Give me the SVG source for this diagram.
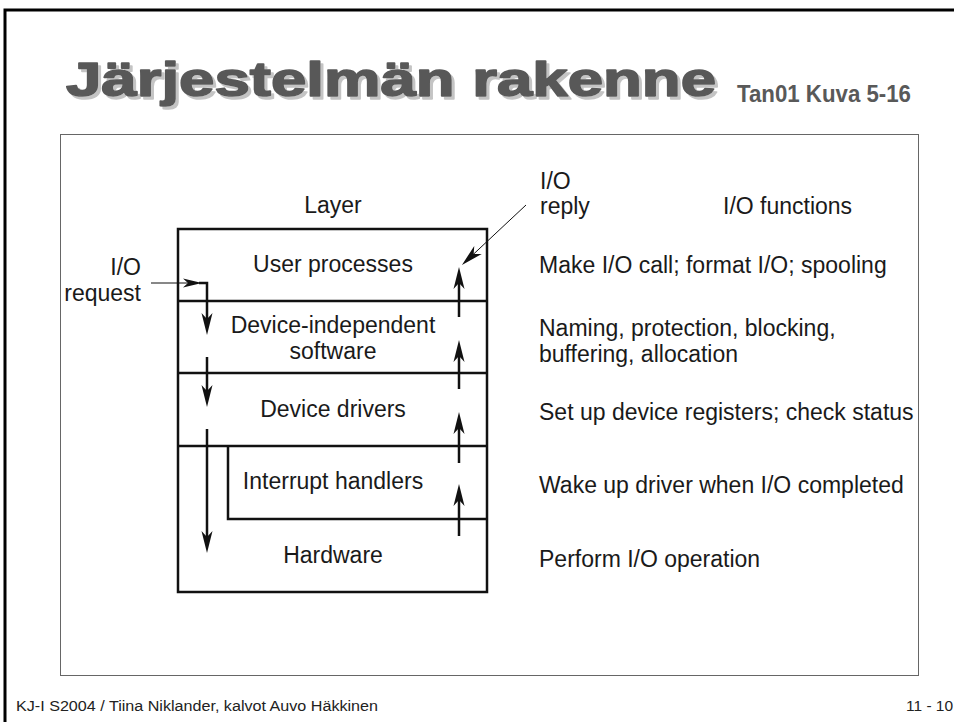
<svg xmlns="http://www.w3.org/2000/svg" width="954" height="722" viewBox="0 0 954 722">
<style>
.lbl{font-family:"Liberation Sans",Arial,sans-serif;font-size:23px;fill:#1a1a1a}
.mid{text-anchor:middle}
.end{text-anchor:end}
.title{font-family:"Liberation Sans",Arial,sans-serif;font-weight:bold;font-size:48px;stroke-width:1.6;stroke-linejoin:round;fill:#595959;stroke:#595959}
.sub{font-family:"Liberation Sans",Arial,sans-serif;font-weight:bold;font-size:23px;fill:#595959}
.box{fill:none;stroke:#111;stroke-width:2.5}
.arr{fill:none;stroke:#111;stroke-width:2.5}
.thin{fill:none;stroke:#111;stroke-width:1}
.foot{font-family:"Liberation Sans",Arial,sans-serif;font-size:15.5px;fill:#222}
</style>
<defs>
<filter id="shadow" x="-5%" y="-20%" width="110%" height="150%">
<feOffset in="SourceAlpha" dx="3" dy="3" result="off"/>
<feFlood flood-color="#c4c4c4"/>
<feComposite in2="off" operator="in" result="sh"/>
<feMerge><feMergeNode in="sh"/><feMergeNode in="SourceGraphic"/></feMerge>
</filter>
<marker id="headBig" markerUnits="userSpaceOnUse" viewBox="-23 -7 24 14" markerWidth="24" markerHeight="14" refX="-8" refY="0" orient="auto">
<path d="M0,0 L-22,-5.5 L-16,0 L-22,5.5 Z" fill="#111"/>
</marker>
<marker id="headSmall" markerUnits="userSpaceOnUse" viewBox="-20 -6 21 12" markerWidth="21" markerHeight="12" refX="-8" refY="0" orient="auto">
<path d="M0,0 L-19,-4.5 L-14,0 L-19,4.5 Z" fill="#111"/>
</marker>
</defs>
<rect x="0" y="0" width="954" height="722" fill="#fff"/>
<rect x="5" y="10" width="980" height="740" fill="none" stroke="#000" stroke-width="3"/>
<g id="title">
<text class="title" x="66" y="96" textLength="650" lengthAdjust="spacingAndGlyphs" filter="url(#shadow)">Järjestelmän rakenne</text>
<text class="sub" x="737" y="102" textLength="174" lengthAdjust="spacingAndGlyphs">Tan01 Kuva 5-16</text>
</g>
<rect id="panel" x="60.5" y="134.5" width="858" height="541" fill="none" stroke="#666" stroke-width="1"/>
<g id="layers">
<rect class="box" x="178" y="229" width="309" height="363"/>
<line class="box" x1="178" y1="301" x2="487" y2="301"/>
<line class="box" x1="178" y1="373" x2="487" y2="373"/>
<line class="box" x1="178" y1="446" x2="487" y2="446"/>
<path class="box" d="M228,446 V519 H487"/>
</g>
<g id="layer-header"><text class="lbl mid" x="333" y="213">Layer</text></g>
<g id="user-processes"><text class="lbl mid" x="333" y="272">User processes</text></g>
<g id="device-independent"><text class="lbl mid" x="333" y="333">Device-independent</text><text class="lbl mid" x="333" y="359">software</text></g>
<g id="device-drivers"><text class="lbl mid" x="333" y="417">Device drivers</text></g>
<g id="interrupt-handlers"><text class="lbl mid" x="333" y="489">Interrupt handlers</text></g>
<g id="hardware"><text class="lbl mid" x="333" y="563">Hardware</text></g>
<g id="io-request"><text class="lbl end" x="141" y="275">I/O</text><text class="lbl end" x="141" y="301">request</text></g>
<g id="io-reply"><text class="lbl" x="540" y="189">I/O</text><text class="lbl" x="540" y="214">reply</text></g>
<g id="functions">
<text class="lbl" x="723" y="214">I/O functions</text>
<text class="lbl" x="539" y="273">Make I/O call; format I/O; spooling</text>
<text class="lbl" x="539" y="336">Naming, protection, blocking,</text>
<text class="lbl" x="539" y="362">buffering, allocation</text>
<text class="lbl" x="539" y="420">Set up device registers; check status</text>
<text class="lbl" x="539" y="493">Wake up driver when I/O completed</text>
<text class="lbl" x="539" y="567">Perform I/O operation</text>
</g>
<g id="connectors">
<line class="thin" x1="151" y1="283" x2="194" y2="283" stroke-width="1.5" marker-end="url(#headSmall)"/>
<path class="arr" d="M199,283 H207 V327" marker-end="url(#headBig)"/>
<line class="arr" x1="207" y1="357" x2="207" y2="399" marker-end="url(#headBig)"/>
<line class="arr" x1="207" y1="429" x2="207" y2="545" marker-end="url(#headBig)"/>
<line class="arr" x1="459" y1="317" x2="459" y2="275" marker-end="url(#headBig)"/>
<line class="arr" x1="459" y1="389" x2="459" y2="348" marker-end="url(#headBig)"/>
<line class="arr" x1="459" y1="463" x2="459" y2="420" marker-end="url(#headBig)"/>
<line class="arr" x1="459" y1="536" x2="459" y2="492" marker-end="url(#headBig)"/>
<line class="thin" x1="526" y1="205" x2="467.8" y2="259.5" marker-end="url(#headBig)"/>
</g>
<g id="footer">
<text class="foot" x="16" y="711" textLength="362" lengthAdjust="spacingAndGlyphs">KJ-I S2004 / Tiina Niklander, kalvot Auvo Häkkinen</text>
<text class="foot" x="906" y="711">11 - 10</text>
</g>
</svg>
